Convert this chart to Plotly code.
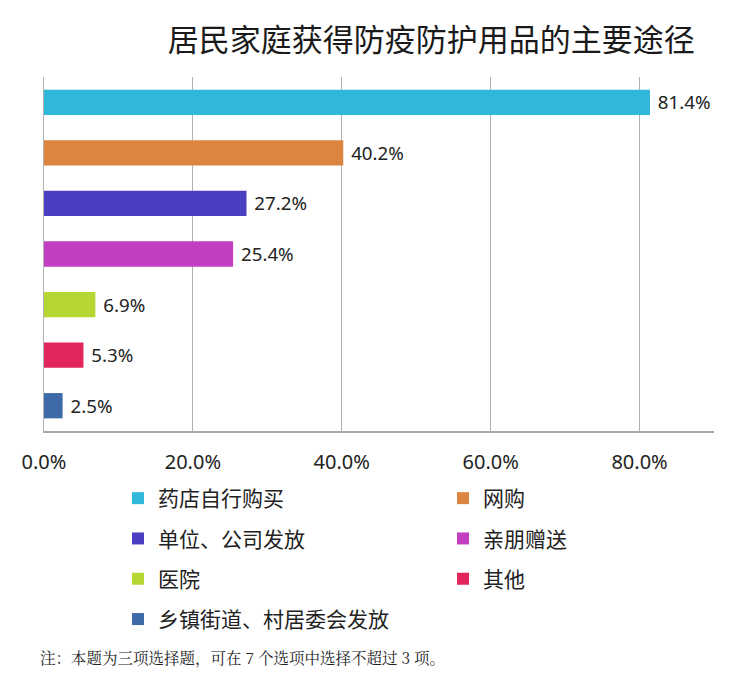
import plotly.graph_objects as go

categories = ["药店自行购买", "网购", "单位、公司发放", "亲朋赠送", "医院", "其他", "乡镇街道、村居委会发放"]
values = [81.4, 40.2, 27.2, 25.4, 6.9, 5.3, 2.5]
colors = ["#2fb8d9", "#dc8540", "#4a3fc2", "#c23fc2", "#b6d733", "#e0265a", "#3f6aa8"]
legend_column = ["legend", "legend2", "legend", "legend2", "legend", "legend2", "legend"]
tick_vals = [0, 20, 40, 60, 80]
tick_text = ["0.0%", "20.0%", "40.0%", "60.0%", "80.0%"]

fig = go.Figure()
for i, (c, v, col, lg) in enumerate(zip(categories, values, colors, legend_column)):
    fig.add_trace(go.Bar(
        y=[c], x=[v], name=c, orientation="h",
        marker=dict(color=col, line=dict(width=0)),
        text=[f" {v:.1f}%"], textposition="outside",
        textfont=dict(size=20, color="#222222", family="Noto Sans"),
        cliponaxis=False, legend=lg, legendgroup=f"g{i}",
    ))

legend_font = dict(size=21, color="#222222", family="Noto Sans CJK SC")
fig.update_layout(
    width=739, height=675,
    margin=dict(l=44, r=25, t=77, b=244, autoexpand=False),
    paper_bgcolor="white", plot_bgcolor="white",
    barmode="overlay", bargap=0.5,
    title=dict(text="居民家庭获得防疫防护用品的主要途径", xref="paper", x=0.578, xanchor="center",
               yref="container", y=1 - 40 / 675, yanchor="middle",
               font=dict(size=31, color="#1a1a1a", family="Noto Sans CJK SC")),
    xaxis=dict(range=[0, 90], tickvals=tick_vals, ticktext=tick_text,
               showgrid=True, gridcolor="#b0b0b0", gridwidth=1,
               zeroline=False, showline=True, linecolor="#a8a8a8", linewidth=2,
               tickfont=dict(size=20, color="#222222", family="Noto Sans"),
               ticks="", ticklabelstandoff=12),
    yaxis=dict(categoryorder="array", categoryarray=categories, autorange="reversed",
               showticklabels=False, showgrid=False, zeroline=False,
               showline=True, linecolor="#b0b0b0", linewidth=1),
    legend=dict(orientation="v", xref="container", x=118 / 739, xanchor="left",
                yref="container", y=1 - 478 / 675, yanchor="top",
                traceorder="grouped", tracegroupgap=10,
                font=legend_font, itemwidth=30, bgcolor="rgba(0,0,0,0)"),
    legend2=dict(orientation="v", xref="container", x=443 / 739, xanchor="left",
                 yref="container", y=1 - 478 / 675, yanchor="top",
                 traceorder="grouped", tracegroupgap=10,
                 font=legend_font, itemwidth=30, bgcolor="rgba(0,0,0,0)"),
    showlegend=True,
)

fig.add_annotation(text="注：本题为三项选择题，可在 7 个选项中选择不超过 3 项。",
                   xref="paper", yref="paper", x=(38 - 44) / 670, xanchor="left",
                   y=(431 - 657) / 354, yanchor="middle", showarrow=False,
                   font=dict(size=15.5, color="#222222", family="Noto Serif CJK SC, Noto Sans CJK SC"))

fig.write_html("out.html")
